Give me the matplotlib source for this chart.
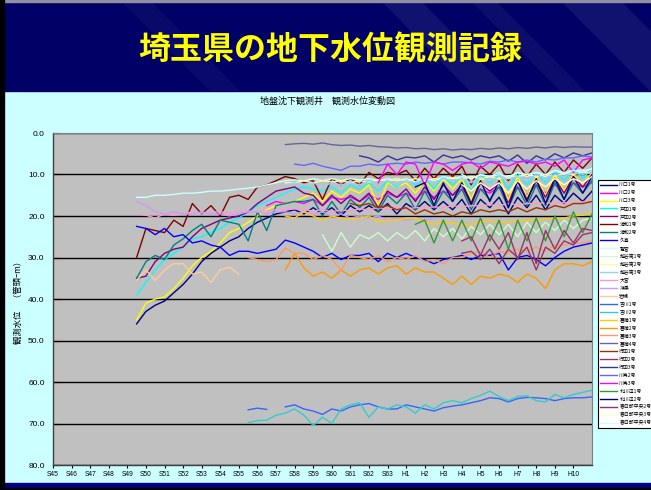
import numpy as np
import matplotlib
matplotlib.use("Agg")
import matplotlib.pyplot as plt
from matplotlib.patches import Rectangle, Polygon

plt.rcParams['font.family'] = ['Noto Sans CJK JP', 'DejaVu Sans']

# ==============================================================================
# データ (深さ m, 0.5年ごと、x = S45 からの年数)
# ==============================================================================
TITLE = "埼玉県の地下水位観測記録"
SUBTITLE = "地盤沈下観測井　観測水位変動図"
YLABEL = "観測水位　（管頭ｰm）"

year_labels = ["S45", "S46", "S47", "S48", "S49", "S50", "S51", "S52", "S53", "S54",
               "S55", "S56", "S57", "S58", "S59", "S60", "S61", "S62", "S63",
               "H1", "H2", "H3", "H4", "H5", "H6", "H7", "H8", "H9", "H10"]

well_names = ["川口1号", "川口2号", "川口3号", "戸田1号", "戸田2号", "浦和1号", "浦和2号",
              "久喜", "鷲宮", "越谷第1号", "越谷第2号", "越谷第3号", "大宮", "鴻巣", "岩槻",
              "吉川1号", "吉川2号", "菖蒲1号", "菖蒲2号", "菖蒲3号", "菖蒲4号",
              "行田1号", "行田2号", "行田3号", "川島2号", "川島3号",
              "北川辺1号", "北川辺2号", "春日部中央2号", "春日部中央3号", "春日部中央4号"]

well_colors = ["#000080", "#FF00FF", "#FFFF00", "#00FFFF", "#800080", "#800000", "#008080",
               "#0000FF", "#CCFFFF", "#CCFFCC", "#FFFF99", "#99CCFF", "#FF99CC", "#CC99FF", "#FFCC99",
               "#3366FF", "#33CCCC", "#FFCC00", "#FF9900", "#FF9966", "#666699",
               "#993300", "#993366", "#333399", "#6666FF", "#FF00FF",
               "#339933", "#000080", "#993366", "#FFFFCC", "#CCFFFF"]

# 観測開始 (S45 からの年数)
start_year = [4.5, 11.5, 4.5, 4.5, 4.5, 4.5, 4.5,
              4.5, 4.5, 14.5, 12.5, 12.5, 4.5, 4.5, 4.5,
              10.5, 10.5, 12.5, 12.5, 10.5, 12.5,
              16.0, 22.0, 16.5, 13.0, 17.5,
              19.5, 19.5, 22.0, 22.0, 22.0]

kawaguchi1 = [46.0, 43.0, 41.5, 40.5, 38.5, 36.5, 34.0, 31.0, 29.0, 27.5, 26.0, 25.0, 23.0,
              21.5, 20.5, 19.5, 19.0, 18.5, 19.5, 18.0, 19.5, 18.0, 20.0, 17.5, 19.0, 17.5,
              19.0, 17.0, 19.5, 17.0, 18.5, 16.5, 18.5, 16.5, 18.5, 16.0, 19.5, 16.0, 18.0,
              15.5, 19.5, 15.5, 18.0, 15.0, 18.5, 15.0, 17.0, 14.5, 16.5, 14.0]
kawaguchi2 = [17.5, 16.5, 17.0, 16.5, 17.0, 16.0, 17.5, 15.5, 16.0, 15.5, 16.5, 15.0, 16.0,
              14.5, 15.5, 14.5, 16.0, 14.0, 15.5, 14.0, 15.0, 13.5, 16.0, 13.5, 14.5, 13.0,
              15.5, 13.0, 15.0, 12.5, 14.5, 12.5, 14.0, 12.0, 13.0, 12.0]
kawaguchi3 = [45.0, 41.0, 40.0, 39.5, 37.5, 35.0, 32.0, 30.0, 28.5, 26.5, 24.0, 23.0, 21.5,
              20.0, 18.5, 17.5, 17.0, 16.5, 15.5, 14.5, 16.5, 14.0, 15.5, 13.5, 14.5, 12.5,
              17.5, 12.0, 13.0, 12.0, 14.5, 11.5, 14.0, 11.0, 13.5, 11.0, 16.0, 11.0, 11.5,
              10.5, 16.0, 10.5, 15.5, 10.5, 15.0, 10.0, 14.0, 10.0, 12.5, 9.5]
toda1 = [39.0, 36.0, 33.0, 30.5, 29.0, 27.5, 25.5, 25.0, 24.0, 23.0, 21.5, 20.5, 19.0,
         17.5, 16.5, 15.5, 14.5, 13.5, 13.0, 13.5, 14.0, 13.0, 14.5, 12.5, 13.5, 12.0,
         14.0, 11.5, 13.0, 11.0, 12.5, 11.0, 13.5, 10.5, 12.5, 10.5, 14.0, 10.0, 12.0,
         10.0, 13.5, 9.5, 12.5, 9.5, 12.0, 9.0, 11.5, 8.5, 11.0, 8.5]
toda2 = [35.0, 34.5, 31.0, 29.0, 28.0, 27.5, 25.0, 23.0, 22.0, 21.0, 20.5, 20.0, 19.0,
         17.0, 15.5, 14.0, 13.5, 13.0, 14.5, 15.0, 17.5, 15.0, 17.0, 15.0, 16.5, 14.5,
         18.0, 14.0, 15.5, 13.5, 16.5, 13.0, 16.0, 12.5, 15.0, 12.5, 17.5, 12.0, 14.0,
         12.0, 17.0, 11.5, 16.0, 11.5, 15.5, 11.0, 14.5, 10.5, 13.0, 10.0]
urawa1 = [30.0, 23.0, 23.5, 24.0, 21.0, 22.5, 17.0, 19.5, 17.5, 20.0, 15.5, 15.0, 16.0,
          13.0, 12.5, 11.5, 10.5, 11.0, 12.0, 11.5, 16.0, 11.0, 12.5, 11.0, 12.5, 9.5,
          11.0, 9.5, 10.0, 9.0, 11.5, 8.5, 11.0, 8.5, 10.5, 8.0, 12.5, 8.0, 10.0,
          7.5, 11.5, 7.5, 10.5, 7.5, 10.0, 7.0, 9.5, 6.5, 8.5, 6.0]
urawa2 = [35.0, 31.0, 29.5, 30.5, 27.0, 25.5, 23.5, 22.0, 25.0, 21.0, 21.5, 22.0, 26.0,
          19.0, 23.5, 17.5, 17.0, 16.5, 16.5, 16.0, 20.0, 16.5, 19.5, 16.0, 18.0, 15.5,
          19.0, 15.0, 17.0, 14.5, 18.5, 14.0, 18.0, 14.0, 16.5, 13.5, 18.5, 13.5, 16.0,
          13.0, 18.0, 13.0, 17.5, 12.5, 17.5, 12.0, 16.0, 12.0, 14.5, 11.5]
kuki = [22.5, 23.0, 24.5, 23.0, 25.0, 24.5, 26.5, 26.0, 27.0, 27.5, 29.5, 28.5, 28.5,
        29.0, 28.5, 28.0, 25.8, 26.5, 27.5, 28.5, 30.0, 29.0, 30.5, 29.5, 29.5, 29.0,
        31.0, 29.0, 30.0, 29.0, 30.0, 30.5, 31.5, 30.5, 30.0, 29.5, 30.5, 29.5, 29.5,
        29.0, 33.0, 30.0, 29.5, 30.5, 32.0, 30.0, 28.5, 27.5, 27.0, 26.5]
washimiya = [15.5, 15.5, 15.0, 15.0, 14.8, 14.5, 14.5, 14.3, 14.0, 14.0, 13.8, 13.5, 13.3,
             13.0, 12.5, 12.0, 11.5, 11.3, 11.5, 11.0, 11.5, 11.0, 11.5, 11.0, 11.3, 11.0,
             11.5, 11.0, 11.5, 11.0, 11.8, 11.0, 11.5, 10.5, 11.0, 10.5, 11.0, 10.0, 10.5,
             10.0, 10.5, 9.5, 10.0, 9.5, 10.0, 9.0, 9.5, 9.0, 9.0, 8.8]
koshigaya1 = [24.5, 28.5, 24.0, 27.5, 24.5, 25.5, 24.0, 26.0, 24.0, 25.5, 23.5, 26.0, 23.0,
              25.0, 23.0, 25.5, 22.5, 24.5, 22.0, 24.5, 22.0, 25.0, 21.5, 24.0, 21.5, 23.5,
              21.0, 23.0, 21.0, 20.5]
koshigaya2 = [12.0, 12.0, 11.5, 12.0, 11.5, 11.8, 11.5, 12.0, 11.5, 11.8, 11.3, 11.5, 11.0,
              11.5, 11.0, 11.5, 11.0, 11.3, 10.8, 11.0, 10.5, 11.0, 10.5, 11.0, 10.3, 10.5,
              10.0, 10.5, 10.0, 10.3, 9.8, 10.0, 9.5, 9.5]
koshigaya3 = [12.5, 12.0, 12.5, 12.0, 13.0, 12.0, 12.5, 12.0, 12.5, 11.5, 12.0, 11.5, 12.5,
              11.5, 12.0, 11.0, 12.0, 11.0, 11.5, 11.0, 12.0, 10.5, 11.5, 10.5, 11.0, 10.5,
              11.5, 10.0, 11.0, 10.0, 10.5, 9.5, 10.0, 9.5]
omiya = [19.5, 19.8, 20.5, 19.5, 19.8, 19.5, 19.0, 19.3, 19.0, 19.0, 19.3, 19.0, 18.8,
         19.0, 18.8, 18.5, 18.5, 18.3, 18.5, 18.8, 18.5, 19.0, 18.5, 18.8, 18.3, 18.5,
         18.0, 18.3, 18.0, 18.3, 18.0, 18.0, 17.8, 18.0, 17.5, 17.8, 17.5, 17.5, 17.3,
         17.5, 17.0, 17.3, 17.0, 17.0, 16.8, 17.0, 16.8, 16.8, 16.6, 16.5]
konosu = [16.5, 17.5, 19.0, 19.5, 19.0, 19.5, 19.5, 19.0, 19.5, 19.5, 20.0, 19.5, 19.0,
          19.0, 19.5, 19.0, 19.0, 19.5, 19.0, 19.5, 19.0, 20.0, 19.5, 20.5, 20.0, 20.5,
          20.0, 21.0, 20.5, 21.0, 20.5, 21.0, 20.5]
iwatsuki = [35.5, 33.0, 35.5, 33.0, 31.5, 31.5, 34.0, 33.5, 36.0, 33.0, 32.3, 34.0]
yoshikawa1 = [66.7, 66.3, 66.6, np.nan, 66.0, 65.5, 66.5, 67.0, 67.8, 66.5, 67.0, 66.0, 65.5,
              65.2, 66.0, 66.5, 66.5, 65.5, 66.0, 66.5, 67.0, 66.2, 65.8, 65.5, 65.0, 64.5,
              63.8, 64.0, 64.8, 64.0, 63.7, 63.8, 64.0, 64.5, 64.0, 63.8, 63.8, 63.6]
yoshikawa2 = [69.8, 69.3, 69.2, 68.0, 67.5, 66.5, 68.0, 70.5, 68.5, 70.0, 66.5, 65.5, 65.0,
              68.5, 66.0, 66.5, 65.5, 66.0, 67.5, 65.5, 66.5, 65.0, 64.5, 65.0, 64.0, 63.2,
              62.2, 63.5, 64.5, 63.5, 63.3, 64.5, 64.8, 63.0, 63.8, 63.0, 62.5, 62.0]
shobu1 = [20.0, 20.5, 19.0, 20.0, 21.0, 20.0, 20.5, 20.8, 20.5, 20.0, 21.5, 21.0, 21.0,
          20.5, 20.5, 21.5, 22.0, 21.5, 21.8, 22.0, 22.0, 21.5, 21.0, 21.5, 21.5, 21.3,
          21.0, 21.0, 20.8, 20.5, 20.5, 20.0, 19.8, 19.3]
shobu2 = [33.0, 29.0, 32.5, 34.5, 33.5, 35.0, 33.0, 34.5, 33.0, 32.5, 34.0, 32.5, 32.0,
          34.0, 32.5, 33.5, 33.5, 35.0, 36.5, 34.5, 36.5, 34.5, 35.0, 34.0, 34.5, 36.0,
          34.0, 35.0, 37.5, 33.0, 31.5, 31.5, 32.0, 31.0]
shobu3 = [30.0, 30.5, 31.0, 30.5, 27.7, 29.0, 29.0, 30.5, 29.5, 30.5, 33.0, 29.5, 30.0,
          30.5, 29.5, 31.0, 30.0, 30.5, 29.5, 31.0, 30.5, 31.5, 30.0, 30.0, 29.0, 28.5,
          30.0, 28.5, 29.0, 28.0, 28.5, 27.5, 28.5, 27.0, 27.0, 26.5, 26.5, 26.0]
shobu4 = [2.8, 2.6, 2.5, 2.7, 2.4, 2.8, 3.0, 2.9, 3.2, 3.0, 3.3, 3.4, 3.6, 3.5, 3.8, 3.7,
          4.0, 3.8, 4.1, 3.9, 4.0, 3.7, 3.9, 3.6, 3.8, 3.5, 3.7, 3.4, 3.6, 3.3, 3.5, 3.3,
          3.4, 3.4]
gyoda1 = [17.0, 17.5, 17.0, 18.0, 17.5, 18.5, 18.0, 19.5, 18.5, 19.5, 19.0, 20.0, 19.0,
          19.5, 18.5, 19.0, 18.5, 19.0, 18.0, 19.0, 18.0, 18.5, 17.5, 18.0, 17.0, 17.0, 16.5]
gyoda2 = [29.0, 28.5, 30.5, 28.0, 31.5, 28.0, 30.0, 27.5, 33.0, 27.5, 29.0, 26.0, 27.0,
          24.5, 24.0]
gyoda3 = [5.5, 6.0, 7.0, 5.5, 6.5, 5.8, 6.0, 5.5, 7.0, 5.3, 6.0, 5.5, 6.5, 5.5, 6.0, 5.5,
          6.8, 5.3, 7.3, 5.5, 6.5, 5.0, 6.0, 4.8, 5.5, 4.8]
kawajima2 = [7.5, 7.8, 7.3, 8.0, 8.5, 9.0, 8.0, 8.0, 7.5, 7.8, 7.5, 7.3, 7.5, 7.0, 7.3,
             7.0, 7.5, 7.0, 7.0, 7.2, 7.5, 6.8, 7.0, 6.5, 7.0, 6.5, 7.0, 6.3, 6.5, 6.0,
             6.0, 5.5, 5.8, 5.3]
kawajima3 = [12.0, 7.5, 10.0, 7.0, 7.5, 12.5, 7.0, 7.5, 9.0, 7.5, 7.0, 8.5, 7.0, 7.5, 8.0,
             7.0, 6.8, 7.5, 7.0, 8.0, 6.5, 9.5, 6.5, 6.0]
kitakawabe1 = [22.0, 21.0, 26.5, 21.0, 26.0, 21.0, 26.0, 20.5, 26.0, 21.0, 28.0, 21.0, 26.0,
               20.5, 26.0, 20.0, 25.0, 19.0, 24.0, 19.5]
kitakawabe2 = [13.0, 12.0, 17.5, 12.0, 16.5, 12.0, 17.0, 11.5, 16.5, 11.5, 18.0, 11.5, 16.5,
               11.0, 17.0, 11.0, 16.0, 10.5, 14.5, 10.5]
kasukabe2 = [26.0, 25.0, 29.5, 24.5, 28.0, 24.0, 30.5, 24.0, 31.5, 23.5, 28.0, 23.5, 26.5,
             23.0, 23.5]
kasukabe3 = [12.5, 14.0, 12.0, 13.5, 12.0, 14.5, 11.5, 13.5, 11.5, 13.0, 11.0, 12.5, 11.0,
             12.0, 10.5]
kasukabe4 = [10.0, 11.0, 10.0, 10.5, 9.5, 11.0, 9.5, 10.5, 9.5, 10.5, 9.0, 10.0, 9.0, 9.5, 8.5]

well_levels = [kawaguchi1, kawaguchi2, kawaguchi3, toda1, toda2, urawa1, urawa2,
               kuki, washimiya, koshigaya1, koshigaya2, koshigaya3, omiya, konosu, iwatsuki,
               yoshikawa1, yoshikawa2, shobu1, shobu2, shobu3, shobu4,
               gyoda1, gyoda2, gyoda3, kawajima2, kawajima3,
               kitakawabe1, kitakawabe2, kasukabe2, kasukabe3, kasukabe4]

STEP = 0.5  # 半年ごと

# ==============================================================================
# 描画
# ==============================================================================
W, H = 651, 490
fig = plt.figure(figsize=(W / 100, H / 100), dpi=100)
fig.patch.set_facecolor("#CCFFFF")

def fx(px):
    return px / W

def fy(py):
    return 1 - py / H

# 背景: 上の紺色帯、下の帯、左の黒線
bg = fig.add_axes([0, 0, 1, 1], zorder=-10)
bg.set_xlim(0, W)
bg.set_ylim(H, 0)
bg.axis("off")
bg.add_patch(Rectangle((0, 0), W, 91, color="#000066"))
for x0, w0, a in [(380, 40, 0.07), (470, 25, 0.05), (560, 60, 0.07), (120, 30, 0.04)]:
    bg.add_patch(Polygon([(x0, 0), (x0 + w0, 0), (x0 + w0 + 90, 91), (x0 + 90, 91)],
                         closed=True, color="white", alpha=a, lw=0))
bg.add_patch(Rectangle((0, 0), W, 2, color="#9090A0"))
bg.add_patch(Rectangle((0, 483), W, 5, color="#000080"))
bg.add_patch(Rectangle((0, 488), W, 2, color="black"))
bg.add_patch(Rectangle((0, 0), 4, H, color="black"))

fig.text(fx(330), fy(50), TITLE, color="#FFFF00", fontsize=23, fontweight="bold",
         ha="center", va="center")
fig.text(fx(328), fy(101), SUBTITLE, color="black", fontsize=6.5, ha="center", va="center")

ax = fig.add_axes([fx(53), fy(465), fx(592) - fx(53), fy(133) - fy(465)])
ax.set_facecolor("#C0C0C0")

for name, color, t0, vals in zip(well_names, well_colors, start_year, well_levels):
    t = t0 + STEP * np.arange(len(vals))
    ax.plot(t, vals, color=color, lw=1.0, label=name)

ax.set_xlim(0, 29)
ax.set_ylim(80, 0)
ax.set_yticks(np.arange(0, 81, 10))
ax.set_yticklabels([f"{v:.1f}" for v in np.arange(0, 81, 10)], fontsize=6,
                   family="Liberation Sans")
ax.set_xticks(np.arange(len(year_labels)))
ax.set_xticklabels(year_labels, fontsize=4.8, family="Liberation Sans")
ax.tick_params(axis="y", direction="in", length=5, width=0.8, pad=6)
ax.tick_params(axis="x", direction="out", length=2.5, width=0.8, pad=2)
ax.yaxis.grid(True, color="black", lw=1.0)
ax.set_axisbelow(True)
for side in ["left", "bottom"]:
    ax.spines[side].set_color("#404040")
    ax.spines[side].set_linewidth(1.0)
for side in ["top", "right"]:
    ax.spines[side].set_color("#808080")
    ax.spines[side].set_linewidth(0.8)

fig.text(fx(18), fy(300), YLABEL, rotation=90, fontsize=6, ha="center", va="center")

leg = fig.legend(loc="upper left", bbox_to_anchor=(fx(598), fy(180)), fontsize=3.5,
                 frameon=True, fancybox=False, edgecolor="black", framealpha=1,
                 handlelength=3.4, labelspacing=0.6, borderpad=0.5, handletextpad=0.5,
                 borderaxespad=0)
leg.get_frame().set_linewidth(0.8)

plt.savefig("out.png", dpi=100, facecolor=fig.get_facecolor())
